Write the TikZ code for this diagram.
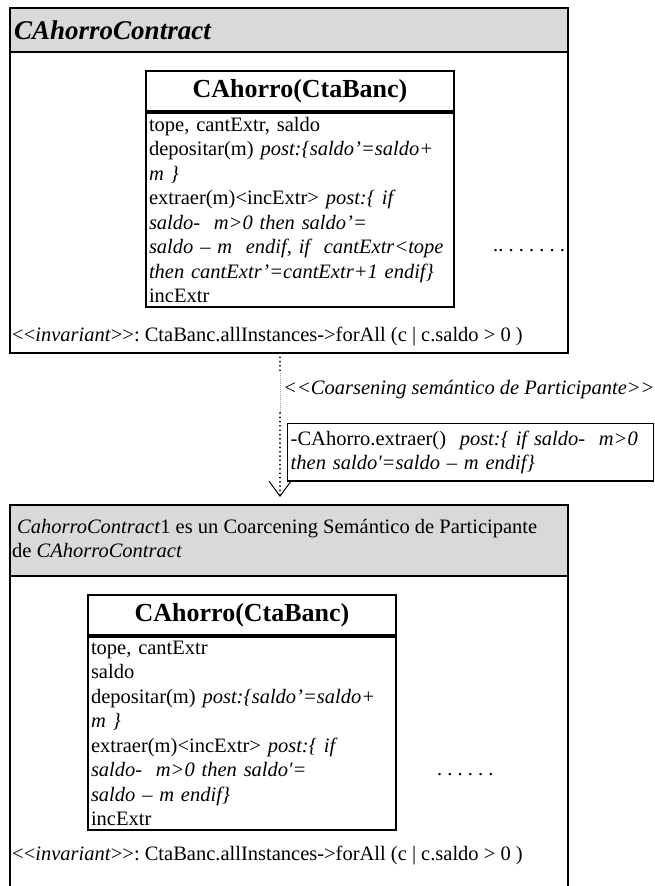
\documentclass[tikz,border=0pt]{standalone}
\usepackage{fontspec}
\setmainfont{Liberation Serif}[Ligatures=TeXOff]
\usepackage{tikz}
\usetikzlibrary{arrows.meta, positioning}
\definecolor{hdrgray}{HTML}{D9D9D9}
\newcommand{\bodyfont}{\fontsize{20.5}{24.5}\selectfont\frenchspacing}

\begin{document}
\begin{tikzpicture}[x=1pt, y=-1pt,
  frame/.style={line width=2.2pt},
  clstitle/.style={draw, line width=2pt, minimum width=308pt, minimum height=40pt, inner sep=0pt, font=\fontsize{26}{30}\selectfont\bfseries},
  clsbody/.style={draw, line width=2pt, text width=302pt, inner xsep=3pt, inner ysep=4pt, align=left, font=\bodyfont},
  txt/.style={inner sep=0pt, font=\bodyfont},
  notebox/.style={draw, line width=1.4pt, text width=360pt, inner xsep=3pt, inner ysep=7pt, align=left, font=\bodyfont},
  heavydots/.style={line width=1.8pt, line cap=round, dash pattern=on 0.1pt off 4.2pt},
  faintdots/.style={line width=0.6pt, gray!70, dash pattern=on 0.7pt off 1.3pt}]
\useasboundingbox (0,0) rectangle (655,886);
\clip (0,0) rectangle (655,886);
\fill[white] (0,0) rectangle (655,886);

% CAhorroContract
\draw[frame, fill=hdrgray] (10,8) rectangle (568,52);
\draw[frame] (10,52) rectangle (568,353);
\node[anchor=west, inner sep=0pt, font=\fontsize{27}{30}\selectfont\bfseries\itshape] (ttlA) at (14,30) {CAhorroContract};
\node[clstitle, anchor=north west] (clsA) at (145,70) {CAhorro(CtaBanc)};
\node[clsbody, below=0pt of clsA] (bodyA) {tope, cantExtr, saldo\\
depositar(m) \textit{post:\{saldo’=saldo+}\\
\textit{m \}}\\
extraer(m)<incExtr> \textit{post:\{ if}\\
\textit{saldo-\ \ m>0 then saldo’=}\\
\textit{saldo – m\ \ endif, if\ \ cantExtr<tope}\\
\textit{then cantExtr’=cantExtr+1 endif\}}\\
incExtr};
\node[txt, anchor=base west] (dotsA) at (493,251.5) {.. . . . . . .};
\node[txt, anchor=base west] (invA) at (12,341) {<<\textit{invariant}>>: CtaBanc.allInstances->forAll (c | c.saldo > 0 )};

% coarsening
\coordinate (src) at (280,353);
\coordinate (m1) at (280,373);
\coordinate (m2) at (280,413);
\coordinate (dst) at (280,497);
\draw[heavydots] (src) -- (m1);
\draw[faintdots] (m1) -- (m2);
\draw[heavydots, -{Straight Barb[length=15pt, width=22pt, line width=1pt]}] (m2) -- (dst);
\node[txt, anchor=base west] (lbl) at (283,394) {\textit{<<Coarsening semántico de Participante>>}};
\node[notebox, anchor=north west] (note) at (287,423) {-CAhorro.extraer()\ \ \textit{post:\{ if saldo-\ \ m>0}\\
\textit{then saldo′=saldo – m endif\}}};

% CahorroContract1
\draw[frame, fill=hdrgray] (10,505) rectangle (568,576);
\draw[frame] (10,576) rectangle (568,900);
\node[txt, anchor=north west, align=left] (ttlB) at (12,519) {\hspace*{5pt}\textit{CahorroContract}1 es un Coarcening Semántico de Participante\\
de \textit{CAhorroContract}};
\node[clstitle, anchor=north west] (clsB) at (87,594) {CAhorro(CtaBanc)};
\node[clsbody, below=0pt of clsB] (bodyB) {tope, cantExtr\\
saldo\\
depositar(m) \textit{post:\{saldo’=saldo+}\\
\textit{m \}}\\
extraer(m)<incExtr> \textit{post:\{ if}\\
\textit{saldo-\ \ m>0 then saldo′=}\\
\textit{saldo – m endif\}}\\
incExtr};
\node[txt, anchor=base west] (dotsB) at (437,775.5) {. . . . . .};
\node[txt, anchor=base west] (invB) at (12,860) {<<\textit{invariant}>>: CtaBanc.allInstances->forAll (c | c.saldo > 0 )};
\end{tikzpicture}
\end{document}
